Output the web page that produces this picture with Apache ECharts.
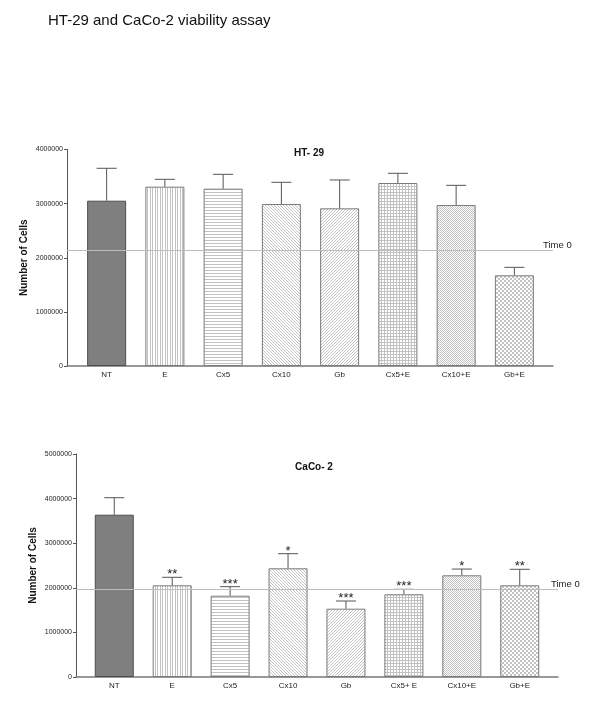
<!DOCTYPE html>
<html>
<head>
<meta charset="utf-8">
<script src="https://cdn.jsdelivr.net/npm/echarts/dist/echarts.min.js"></script>
<style>
  html, body { margin: 0; padding: 0; background: #fff; }
  #main { width: 600px; height: 707px; }
</style>
</head>
<body>
<div id="main"></div>
<script>
// 数据
const categoriesHT = ['NT', 'E', 'Cx5', 'Cx10', 'Gb', 'Cx5+E', 'Cx10+E', 'Gb+E'];
const htMeans = [3054000, 3313000, 3276000, 2993000, 2913000, 3381000, 2975000, 1675000];
const htErr = [599000, 136000, 265000, 401000, 524000, 179000, 363000, 148000];
const htTime0 = 2140000;
const htTicks = [0, 4000000, 1000000]; // min, max, interval

const categoriesCaco = ['NT', 'E', 'Cx5', 'Cx10', 'Gb', 'Cx5+ E', 'Cx10+E', 'Gb+E'];
const cacoMeans = [3639000, 2056000, 1823000, 2437000, 1532000, 1854000, 2280000, 2056000];
const cacoErr = [381000, 179000, 202000, 328000, 172000, 112000, 140000, 359000];
const cacoStars = ['', '**', '***', '*', '***', '***', '*', '**'];
const cacoTime0 = 1957000;
const cacoTicks = [0, 5000000, 1000000];

const FONT = '"Liberation Sans", Arial, sans-serif';

// 填充图案
function makePattern(size, draw) {
  const c = document.createElement('canvas');
  c.width = size[0];
  c.height = size[1];
  const ctx = c.getContext('2d');
  ctx.fillStyle = '#fff';
  ctx.fillRect(0, 0, size[0], size[1]);
  ctx.fillStyle = '#c2c2c2';
  draw(ctx);
  return { image: c, repeat: 'repeat' };
}
const patterns = [
  '#7f7f7f',
  makePattern([5, 1], ctx => { ctx.fillRect(0, 0, 1, 1); ctx.fillRect(2, 0, 1, 1); }),
  makePattern([1, 3], ctx => { ctx.fillRect(0, 0, 1, 1); }),
  makePattern([3, 3], ctx => { for (let i = 0; i < 3; i++) ctx.fillRect(i, i, 1, 1); }),
  makePattern([3, 3], ctx => { for (let i = 0; i < 3; i++) ctx.fillRect(2 - i, i, 1, 1); }),
  makePattern([3, 3], ctx => { ctx.fillRect(0, 0, 3, 1); ctx.fillRect(0, 0, 1, 3); }),
  makePattern([2, 2], ctx => { ctx.fillRect(0, 0, 1, 1); ctx.fillRect(1, 1, 1, 1); }),
  makePattern([4, 4], ctx => { ctx.fillRect(0, 0, 2, 2); ctx.fillRect(2, 2, 2, 2); })
];

function barData(means) {
  return means.map((v, i) => ({
    value: v,
    itemStyle: {
      color: patterns[i],
      borderColor: i === 0 ? '#4d4d4d' : '#7a7a7a',
      borderWidth: 1
    }
  }));
}

function errRender(stars) {
  return function (params, api) {
    const x = api.value(0);
    const m = api.value(1);
    const e = api.value(2);
    const base = api.coord([x, m]);
    const top = api.coord([x, m + e]);
    const style = { stroke: '#555', lineWidth: 1 };
    const children = [
      { type: 'line', shape: { x1: base[0], y1: base[1], x2: top[0], y2: top[1] }, style },
      { type: 'line', shape: { x1: top[0] - 10, y1: top[1], x2: top[0] + 10, y2: top[1] }, style }
    ];
    const s = stars ? stars[params.dataIndex] : '';
    if (s) {
      children.push({
        type: 'text',
        style: {
          x: top[0], y: top[1] - 9, text: s,
          fill: '#222', font: '13px ' + FONT,
          textAlign: 'center', textVerticalAlign: 'top'
        }
      });
    }
    return { type: 'group', children };
  };
}

function frameY(idx, ticks) {
  return {
    gridIndex: idx, type: 'value', min: ticks[0], max: ticks[1], interval: ticks[2],
    name: 'Number of Cells', nameLocation: 'middle', nameGap: 38, nameMoveOverlap: false,
    nameTextStyle: { fontFamily: FONT, fontSize: 10, fontWeight: 'bold', color: '#111' },
    axisLine: { show: true, lineStyle: { color: '#555', width: 1 } },
    axisTick: { show: true, length: 3, lineStyle: { color: '#555' } },
    axisLabel: { fontFamily: FONT, fontSize: 7, color: '#222', margin: 4, formatter: v => String(v) },
    splitLine: { show: false }
  };
}
function barY(idx, ticks) {
  return {
    gridIndex: idx, type: 'value', min: ticks[0], max: ticks[1], interval: ticks[2],
    show: false, splitLine: { show: false }
  };
}
function frameX(idx) {
  return {
    gridIndex: idx, type: 'value', min: 0, max: 1,
    axisLine: { show: true, onZero: false, lineStyle: { color: '#777', width: 1.5 } },
    axisTick: { show: false }, axisLabel: { show: false }, splitLine: { show: false }
  };
}
function barX(idx, cats) {
  return {
    gridIndex: idx, type: 'category', data: cats,
    axisLine: { show: false }, axisTick: { show: false },
    axisLabel: { fontFamily: FONT, fontSize: 8, color: '#222', margin: 5, interval: 0 }
  };
}
function time0(xi, yi, value, dist) {
  return {
    type: 'line', xAxisIndex: xi, yAxisIndex: yi,
    data: [[0, value], [1, value]], showSymbol: false, silent: true,
    lineStyle: { opacity: 0 },
    markLine: {
      symbol: 'none', silent: true,
      lineStyle: { color: '#bdbdbd', width: 1, type: 'solid' },
      label: {
        show: true, position: 'end', formatter: 'Time 0', distance: dist,
        verticalAlign: 'bottom',
        fontFamily: FONT, fontSize: 9.5, color: '#222'
      },
      data: [{ yAxis: value }]
    }
  };
}

const chart = echarts.init(document.getElementById('main'));
const option = {
  animation: false,
  backgroundColor: '#fff',
  title: [
    { text: 'HT-29 and CaCo-2 viability assay', left: 43, top: 8,
      textStyle: { fontFamily: FONT, fontSize: 15, fontWeight: 'normal', color: '#111' } },
    { text: 'HT- 29', left: 304, top: 143, textAlign: 'center',
      textStyle: { fontFamily: FONT, fontSize: 10, fontWeight: 'bold', color: '#111' } },
    { text: 'CaCo- 2', left: 309, top: 457, textAlign: 'center',
      textStyle: { fontFamily: FONT, fontSize: 10, fontWeight: 'bold', color: '#111' } }
  ],
  grid: [
    { left: 67, right: 47, top: 149.5, height: 216.5 },
    { left: 77.5, right: 56.5, top: 149.5, height: 216.5 },
    { left: 76, right: 42, top: 454, height: 223 },
    { left: 85.3, right: 51.3, top: 454, height: 223 }
  ],
  xAxis: [frameX(0), barX(1, categoriesHT), frameX(2), barX(3, categoriesCaco)],
  yAxis: [frameY(0, htTicks), barY(1, htTicks), frameY(2, cacoTicks), barY(3, cacoTicks)],
  series: [
    time0(0, 0, htTime0, [-10, 5]),
    {
      type: 'bar', xAxisIndex: 1, yAxisIndex: 1, barWidth: 39,
      data: barData(htMeans)
    },
    {
      type: 'custom', xAxisIndex: 1, yAxisIndex: 1,
      renderItem: errRender(null),
      data: htMeans.map((v, i) => [i, v, htErr[i]]), z: 3
    },
    time0(2, 2, cacoTime0, [-7, 5]),
    {
      type: 'bar', xAxisIndex: 3, yAxisIndex: 3, barWidth: 39,
      data: barData(cacoMeans)
    },
    {
      type: 'custom', xAxisIndex: 3, yAxisIndex: 3,
      renderItem: errRender(cacoStars),
      data: cacoMeans.map((v, i) => [i, v, cacoErr[i]]), z: 3
    }
  ]
};
chart.setOption(option);
</script>
</body>
</html>
